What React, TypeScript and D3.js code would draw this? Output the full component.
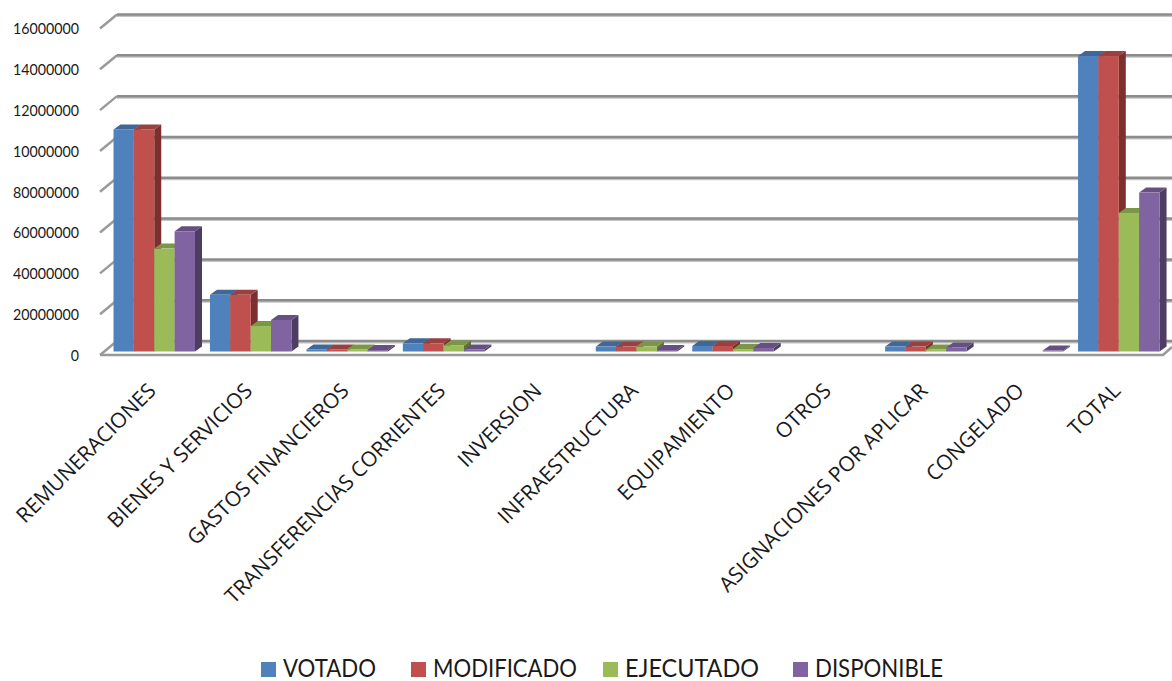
import * as d3 from "d3";

const categories = [
  "REMUNERACIONES",
  "BIENES Y SERVICIOS",
  "GASTOS FINANCIEROS",
  "TRANSFERENCIAS CORRIENTES",
  "INVERSION",
  "INFRAESTRUCTURA",
  "EQUIPAMIENTO",
  "OTROS",
  "ASIGNACIONES POR APLICAR",
  "CONGELADO",
  "TOTAL",
];

const seriesNames = ["VOTADO", "MODIFICADO", "EJECUTADO", "DISPONIBLE"];

const votado = [109000000, 27800000, 1000000, 4000000, 0, 2400000, 2700000, 0, 2400000, 0, 145000000];
const modificado = [109000000, 27800000, 1000000, 4000000, 0, 2400000, 2700000, 0, 2400000, 0, 145000000];
const ejecutado = [50500000, 12500000, 1000000, 3000000, 0, 2400000, 1200000, 0, 1000000, 0, 68000000];
const disponible = [59000000, 15500000, 700000, 1000000, 0, 700000, 1700000, 0, 2000000, 500000, 78000000];
const seriesValues = [votado, modificado, ejecutado, disponible];

const tickValues = [0, 20000000, 40000000, 60000000, 80000000, 100000000, 120000000, 140000000, 160000000];
const tickLabels = ["0", "20000000", "40000000", "60000000", "80000000", "10000000", "12000000", "14000000", "16000000"];

const frontColors = ["#4f81bd", "#c0504d", "#9bbb59", "#8064a2"];
const topColors = ["#3f6797", "#994040", "#7c9647", "#665082"];
const sideColors = ["#345378", "#7c302e", "#5f7236", "#4e3d63"];

const legendSwatchX = [261, 411, 603, 793];
const legendTextWidth = [93, 144, 134, 128];

const width = 1172;
const height = 681;
const font = "Lato, 'Open Sans', sans-serif";

const depthX = 17;
const depthY = 14;
const barDepthX = 7;
const barDepthY = 5;

export default function App() {
  const yBack = d3.scaleLinear().domain([0, 160000000]).range([341, 14.5]);
  const yBar = d3.scaleLinear().domain([0, 160000000]).range([351.5, 25.5]);
  const xCat = d3.scaleBand<string>().domain(categories).range([106, 1167]);
  const xSeries = d3.scaleBand<string>().domain(seriesNames).range([7.5, 89]);
  const wallX = 117;

  return (
    <svg
      width={width}
      height={height}
      viewBox={`0 0 ${width} ${height}`}
      style={{ position: "absolute", left: 0, top: 0, display: "block" }}
      fontFamily={font}
    >
      <rect width={width} height={height} fill="#fff" />

      {/* gridlines and wall ticks */}
      {tickValues.map((t, i) => {
        const y = yBack(t);
        return (
          <g key={t}>
            <line x1={wallX} x2={width} y1={y + 1.5} y2={y + 1.5} stroke="#c4c4c4" strokeWidth={2} />
            <line x1={wallX} x2={width} y1={y} y2={y} stroke="#8c8c8c" strokeWidth={2.5} />
            <line x1={wallX - depthX} x2={wallX} y1={y + depthY} y2={y} stroke="#9a9a9a" strokeWidth={2.5} />
            <text
              x={79}
              y={y + depthY}
              dy="0.36em"
              textAnchor="end"
              fontSize={16}
              fill="#1a1a1a"
              textLength={tickLabels[i].length * 8.25}
              lengthAdjust="spacingAndGlyphs"
            >
              {tickLabels[i]}
            </text>
          </g>
        );
      })}

      {/* floor front edge */}
      <path
        d={`M${wallX - depthX},${yBack(0) + depthY}H1163L1172,${yBack(0) + 6}`}
        fill="none"
        stroke="#999"
        strokeWidth={2.5}
      />

      {/* bars */}
      {categories.map((c, ci) => (
        <g key={c} transform={`translate(${xCat(c)},0)`}>
          {seriesNames.map((s, si) => {
            const v = seriesValues[si][ci];
            if (!v) return null;
            const x = xSeries(s)!;
            const w = xSeries.bandwidth();
            const y0 = yBar(0);
            const y1 = yBar(v);
            return (
              <g key={s}>
                <path
                  d={`M${x + w},${y1}l${barDepthX},${-barDepthY}V${y0 - barDepthY}l${-barDepthX},${barDepthY}Z`}
                  fill={sideColors[si]}
                />
                <path
                  d={`M${x},${y1}l${barDepthX},${-barDepthY}h${w}l${-barDepthX},${barDepthY}Z`}
                  fill={topColors[si]}
                />
                <rect x={x} y={y1} width={w} height={y0 - y1} fill={frontColors[si]} />
              </g>
            );
          })}
        </g>
      ))}

      {/* category labels */}
      {categories.map((c) => (
        <text
          key={c}
          transform={`translate(${xCat(c)! + xCat.bandwidth() / 2 + 3},392) rotate(-45)`}
          textAnchor="end"
          fontFamily="'Open Sans', sans-serif"
          fontSize={21}
          fill="#1a1a1a"
        >
          {c}
        </text>
      ))}

      {/* legend */}
      {seriesNames.map((s, i) => (
        <g key={s}>
          <rect x={legendSwatchX[i]} y={662} width={15} height={15} fill={frontColors[i]} />
          <text
            x={legendSwatchX[i] + 22}
            y={677}
            fontSize={25}
            fill="#1a1a1a"
            textLength={legendTextWidth[i]}
            lengthAdjust="spacingAndGlyphs"
          >
            {s}
          </text>
        </g>
      ))}
    </svg>
  );
}
